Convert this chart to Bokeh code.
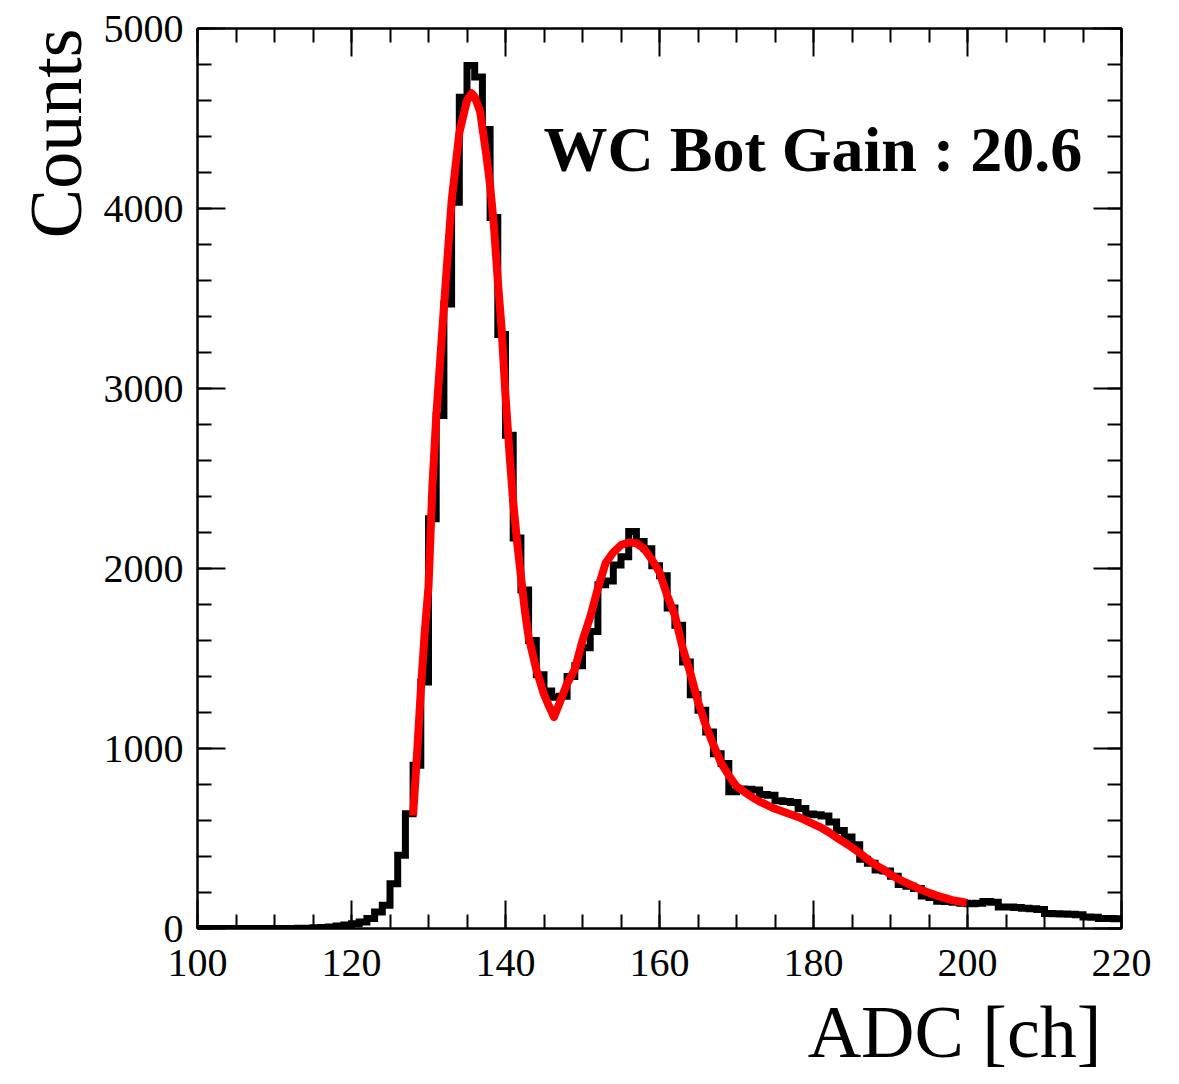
from bokeh.plotting import figure
from bokeh.models import (Range1d, SingleIntervalTicker, LinearAxis, Label,
                          CustomJSTickFormatter, Title)
from bokeh.embed import file_html
from bokeh.resources import INLINE

# ---------------- data ----------------
# histogram: bin k covers [k, k+1)
bin_left = list(range(100, 220))
counts = ([0] * 13 +                                   # 100..112
          [1, 2, 4, 6, 9, 14, 20, 26, 36, 55,           # 113..122
           92, 129, 249, 407, 638, 907, 1369, 2276, 2850, 3470,   # 123..132
           4035, 4618, 4794, 4730, 4439, 3950, 3300, 2740, 2170, 1880,  # 133..142
           1600, 1410, 1320, 1285, 1290, 1400, 1460, 1560, 1650, 1910,  # 143..152
           1930, 2020, 2065, 2205, 2150, 2110, 2015, 1960, 1780, 1685,  # 153..162
           1480, 1298, 1212, 1092, 971, 916, 760, 775, 773, 770,        # 163..172
           745, 740, 710, 706, 700, 666, 636, 632, 625, 592,            # 173..182
           545, 508, 465, 385, 362, 325, 320, 290, 245, 235,            # 183..192
           222, 180, 172, 152, 150, 146, 140, 138, 140, 150,            # 193..202
           146, 120, 119, 117, 112, 110, 105, 84, 82, 80,               # 203..212
           79, 76, 64, 62, 56, 55, 54])                                 # 213..219

# fitted function (red)
fit_x = [128.0, 128.5, 129.0, 129.5, 130.0, 130.5, 131.0, 132.0, 133.0, 134.0,
         135.0, 135.6, 136.0, 136.7, 137.5, 138.0, 138.5, 139.0, 139.5, 140.0,
         140.5, 141.0, 141.5, 142.0, 142.5, 143.0, 144.0, 145.0, 145.5, 146.3,
         147.0, 148.0, 149.0, 150.0, 151.0, 152.0, 153.0, 154.0, 155.0, 156.0,
         157.0, 158.0, 159.0, 160.0, 161.0, 162.0, 163.0, 164.0, 165.0, 166.0,
         167.0, 168.0, 169.0, 170.0, 171.0, 172.0, 173.0, 174.0, 175.0, 176.0,
         177.0, 178.0, 179.0, 180.0, 181.0, 182.0, 183.0, 184.0, 185.0, 186.0,
         187.0, 188.0, 189.0, 190.0, 191.0, 192.0, 193.0, 194.0, 195.0, 196.0,
         197.0, 198.0, 199.0, 200.0]
fit_y = [628, 960, 1320, 1640, 1900, 2450, 2840, 3450, 4040, 4420,
         4600, 4640, 4620, 4540, 4300, 4130, 3900, 3600, 3330, 2960,
         2650, 2370, 2150, 1960, 1770, 1620, 1440, 1300, 1250, 1175,
         1250, 1360, 1440, 1600, 1730, 1890, 2030, 2090, 2130, 2145,
         2140, 2110, 2050, 1980, 1850, 1740, 1560, 1420, 1260, 1130,
         1020, 920, 850, 790, 760, 730, 705, 685, 665, 650,
         635, 620, 600, 580, 560, 535, 505, 478, 450, 420,
         385, 355, 330, 300, 275, 255, 235, 215, 198, 183,
         170, 158, 150, 142]

x_ticks_interval = 20
y_ticks_interval = 1000

FONT = "Liberation Serif"

# ---------------- figure ----------------
p = figure(width=1176, height=1084, output_backend="svg", toolbar_location=None,
           x_range=Range1d(100, 220), y_range=Range1d(0, 5000),
           min_border_left=197, min_border_right=55, min_border_top=28,
           min_border_bottom=156, background_fill_color="white",
           border_fill_color="white")
p.xgrid.visible = False
p.ygrid.visible = False
p.outline_line_color = "black"
p.outline_line_width = 2

bottom_ax = p.below[0]
left_ax = p.left[0]
bottom_ax.ticker = SingleIntervalTicker(interval=x_ticks_interval, num_minor_ticks=4)
left_ax.ticker = SingleIntervalTicker(interval=y_ticks_interval, num_minor_ticks=5)

blank = CustomJSTickFormatter(code="return ''")
top_ax = LinearAxis(ticker=SingleIntervalTicker(interval=x_ticks_interval, num_minor_ticks=4),
                    formatter=blank)
right_ax = LinearAxis(ticker=SingleIntervalTicker(interval=y_ticks_interval, num_minor_ticks=5),
                      formatter=blank)
p.add_layout(top_ax, "above")
p.add_layout(right_ax, "right")

for ax in [bottom_ax, left_ax, top_ax, right_ax]:
    ax.axis_line_color = "black"
    ax.axis_line_width = 2
    ax.major_tick_in = 28
    ax.major_tick_out = 0
    ax.minor_tick_in = 14
    ax.minor_tick_out = 0
    ax.major_tick_line_width = 2
    ax.minor_tick_line_width = 2
    ax.major_tick_line_color = "black"
    ax.minor_tick_line_color = "black"
    ax.major_label_text_font = FONT
    ax.major_label_text_font_size = "40px"
    ax.major_label_text_color = "black"

top_ax.major_label_text_font_size = "1px"
right_ax.major_label_text_font_size = "1px"
top_ax.major_label_standoff = 0
right_ax.major_label_standoff = 0
bottom_ax.major_label_standoff = 21
left_ax.major_label_standoff = 14

# axis titles (ROOT style, aligned to the end of the axis)
p.add_layout(Title(text="Counts", align="right", text_font=FONT,
                   text_font_size="74px", text_font_style="normal",
                   text_color="black", standoff=8), "left")
p.add_layout(Title(text="ADC [ch]", align="right", text_font=FONT,
                   text_font_size="74px", text_font_style="normal",
                   text_color="black", standoff=20, offset=20,
                   text_line_height=0.7), "below")

# histogram as steps
step_x = bin_left + [220]
step_y = counts + [counts[-1]]
p.step(step_x, step_y, mode="after", line_color="black", line_width=7,
       line_join="miter")

# fit curve
p.line(fit_x, fit_y, line_color="#ff0000", line_width=8, line_join="round",
       line_cap="butt")

# gain text
p.add_layout(Label(x=214.9, y=4330, text="WC Bot Gain : 20.6",
                   text_font=FONT, text_font_size="64px",
                   text_font_style="bold", text_align="right",
                   text_baseline="alphabetic", text_color="black"))

open("out.html", "w").write(file_html(p, INLINE))
